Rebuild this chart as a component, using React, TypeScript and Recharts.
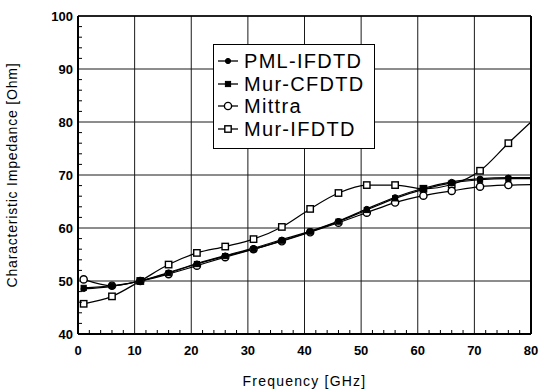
import React from 'react';
import { LineChart, Line, XAxis, YAxis, CartesianGrid, ReferenceLine, Label } from 'recharts';

const freq = [1, 6, 11, 16, 21, 26, 31, 36, 41, 46, 51, 56, 61, 66, 71, 76, 80];
const pmlIfdtd = [48.5, 49.0, 50.0, 51.6, 53.3, 54.8, 56.2, 57.8, 59.4, 61.3, 63.6, 65.8, 67.5, 68.7, 69.3, 69.5, 69.5];
const murCfdtd = [48.7, 49.1, 50.0, 51.5, 53.2, 54.7, 56.0, 57.6, 59.3, 61.2, 63.4, 65.6, 67.3, 68.5, 69.1, 69.3, 69.3];
const mittra = [50.3, 49.1, 50.0, 51.3, 52.9, 54.5, 56.0, 57.5, 59.2, 61.0, 62.9, 64.8, 66.1, 67.0, 67.8, 68.1, 68.2];
const murIfdtd = [45.7, 47.1, 50.0, 53.1, 55.3, 56.5, 57.9, 60.2, 63.6, 66.6, 68.1, 68.1, 67.4, 68.2, 70.8, 76.0, 80.0];

const xTicks = [0, 10, 20, 30, 40, 50, 60, 70, 80];
const yTicks = [40, 50, 60, 70, 80, 90, 100];
const xAllTicks = Array.from({ length: 41 }, (_, i) => i * 2);
const yAllTicks = Array.from({ length: 31 }, (_, i) => 40 + i * 2);

const seriesNames = ['PML-IFDTD', 'Mur-CFDTD', 'Mittra', 'Mur-IFDTD'];

const data = freq.map((f, i) => ({
  f,
  pml: pmlIfdtd[i],
  murC: murCfdtd[i],
  mittra: mittra[i],
  murI: murIfdtd[i],
}));

const FONT = "'Liberation Sans', Arial, sans-serif";

type Kind = 'fcircle' | 'fsquare' | 'ocircle' | 'osquare';

const drawMarker = (kind: Kind, cx: number, cy: number, key?: any) => {
  switch (kind) {
    case 'fcircle':
      return <circle key={key} cx={cx} cy={cy} r={2.6} fill="#000" stroke="#000" strokeWidth={1} />;
    case 'fsquare':
      return <rect key={key} x={cx - 2.6} y={cy - 2.6} width={5.2} height={5.2} fill="#000" stroke="#000" strokeWidth={1} />;
    case 'ocircle':
      return <circle key={key} cx={cx} cy={cy} r={3.6} fill="#fff" stroke="#000" strokeWidth={1.4} />;
    default:
      return <rect key={key} x={cx - 3.2} y={cy - 3.2} width={6.4} height={6.4} fill="#fff" stroke="#000" strokeWidth={1.4} />;
  }
};

const makeDot = (kind: Kind) => (props: any) => {
  const { cx, cy, payload, index } = props;
  if (payload && payload.f === 80) return <g key={`e-${kind}-${index}`} />;
  return drawMarker(kind, cx, cy, `d-${kind}-${index}`);
};

const kinds: Kind[] = ['fcircle', 'fsquare', 'ocircle', 'osquare'];

const XTick = (props: any) => {
  const { x, y, payload } = props;
  const v = payload.value;
  if (v % 10 === 0) {
    return (
      <text x={x} y={y + 12} dy="0.71em" textAnchor="middle" fill="#000" fontSize={13} fontWeight="bold" fontFamily={FONT}>
        {v}
      </text>
    );
  }
  return <line x1={x} x2={x} y1={y} y2={y - 4} stroke="#000" strokeWidth={1} />;
};

const YTick = (props: any) => {
  const { x, y, payload } = props;
  const v = payload.value;
  if (v % 10 === 0) {
    return (
      <text x={x - 5} y={y} dy="0.355em" textAnchor="end" fill="#000" fontSize={13} fontWeight="bold" fontFamily={FONT}>
        {v}
      </text>
    );
  }
  return <line x1={x} x2={x + 4} y1={y} y2={y} stroke="#000" strokeWidth={1} />;
};

const LegendBox = () => (
  <div
    style={{
      position: 'absolute',
      left: 213,
      top: 44,
      border: '1.5px solid #000',
      background: '#fff',
      width: 162,
      height: 105,
      boxSizing: 'border-box',
      paddingTop: 5,
      fontFamily: FONT,
    }}
  >
    {seriesNames.map((n, i) => (
      <div key={n} style={{ display: 'flex', alignItems: 'center', height: 22.5 }}>
        <svg width={27} height={14} style={{ marginLeft: 3, flex: 'none' }}>
          <line x1={1} y1={7} x2={21} y2={7} stroke="#000" strokeWidth={1.3} />
          {drawMarker(kinds[i], 11, 7)}
        </svg>
        <span style={{ fontSize: 20, letterSpacing: 1.3, lineHeight: '22px', color: '#000' }}>{n}</span>
      </div>
    ))}
  </div>
);

export default function App() {
  return (
    <div style={{ position: 'absolute', left: 0, top: 0, width: 541, height: 392, background: '#fff' }}>
      <LineChart width={541} height={392} data={data} margin={{ top: 16, right: 10, bottom: 18, left: 28 }}>
        <CartesianGrid stroke="#1a1a1a" strokeWidth={1} verticalValues={xTicks} horizontalValues={yTicks} />
        <XAxis
          dataKey="f"
          type="number"
          domain={[0, 80]}
          ticks={xAllTicks}
          tickLine={false}
          tickSize={0}
          tickMargin={0}
          height={40}
          axisLine={{ stroke: '#000', strokeWidth: 2 }}
          tick={<XTick />}
          interval={0}
        >
          <Label
            value="Frequency [GHz]"
            position="insideBottom"
            offset={0}
            dy={12}
            style={{ fill: '#000', fontSize: 14, letterSpacing: 1.2, fontFamily: FONT }}
          />
        </XAxis>
        <YAxis
          type="number"
          domain={[40, 100]}
          ticks={yAllTicks}
          width={50}
          tickLine={false}
          tickSize={0}
          tickMargin={0}
          axisLine={{ stroke: '#000', strokeWidth: 2 }}
          tick={<YTick />}
          interval={0}
        >
          <Label
            value="Characteristic Impedance [Ohm]"
            angle={-90}
            position="insideLeft"
            offset={0}
            dx={-16}
            style={{ fill: '#000', fontSize: 14, letterSpacing: 0.8, fontFamily: FONT, textAnchor: 'middle' }}
          />
        </YAxis>
        <ReferenceLine x={80} stroke="#000" strokeWidth={2} />
        <ReferenceLine y={100} stroke="#000" strokeWidth={1.5} />
        <Line type="monotone" dataKey="murI" name={seriesNames[3]} stroke="#000" strokeWidth={1.2} dot={makeDot('osquare')} isAnimationActive={false} />
        <Line type="monotone" dataKey="mittra" name={seriesNames[2]} stroke="#000" strokeWidth={1.2} dot={makeDot('ocircle')} isAnimationActive={false} />
        <Line type="monotone" dataKey="murC" name={seriesNames[1]} stroke="#000" strokeWidth={1.2} dot={makeDot('fsquare')} isAnimationActive={false} />
        <Line type="monotone" dataKey="pml" name={seriesNames[0]} stroke="#000" strokeWidth={1.2} dot={makeDot('fcircle')} isAnimationActive={false} />
      </LineChart>
      <LegendBox />
    </div>
  );
}
